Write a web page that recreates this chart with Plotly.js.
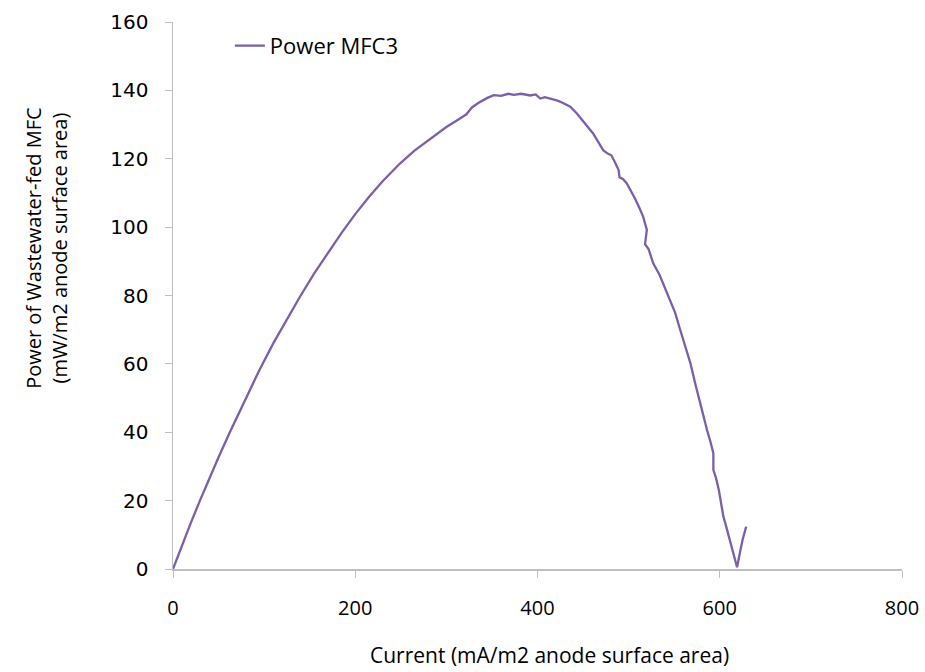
<!DOCTYPE html>
<html>
<head>
<meta charset="utf-8">
<script src="https://cdn.plot.ly/plotly-3.0.1.min.js"></script>
<style>html,body{margin:0;padding:0;background:#fff;}#chart{width:925px;height:672px;}</style>
</head>
<body>
<div id="chart"></div>
<script>
var seriesName = "Power MFC3";
var xTitle = "Current (mA/m2 anode surface area)";
var yTitle = "Power of Wastewater-fed MFC<br>(mW/m2 anode surface area)";
var current = [0, 10, 20, 30, 40, 50, 62, 75, 95, 110, 125, 139, 155, 170, 185, 200, 215, 230, 249, 265, 285, 300, 315, 322, 328, 335, 345, 352, 360, 368, 374, 382, 392, 398, 403, 408, 415, 422, 428, 436, 443, 452, 461, 466, 472, 477, 481, 485, 489, 490, 494, 498, 503, 507, 512, 516, 520, 518, 522, 527, 534, 541, 546, 551, 556, 560, 564, 568, 573, 576, 579, 583, 586, 590, 593, 593, 596, 599, 601, 604, 606, 609, 612, 615, 619, 622, 625, 629];
var power = [0, 7, 13.8, 20.3, 26.6, 32.7, 39.8, 47, 58.3, 66, 73.2, 79.5, 86.5, 92.5, 98.3, 103.8, 108.8, 113.4, 118.6, 122.4, 126.5, 129.3, 131.8, 133, 135, 136.3, 137.8, 138.6, 138.4, 139, 138.7, 139, 138.5, 138.8, 137.6, 138, 137.5, 137, 136.3, 135.2, 133.3, 130.5, 127.4, 125.2, 122.5, 121.5, 121, 119, 116.7, 114.6, 114, 112.8, 110.5, 108.4, 105.5, 103, 99.2, 95, 93.5, 89.4, 86, 81.6, 78.5, 75, 70.5, 67, 63.1, 60, 54.3, 51, 47.5, 43.5, 40.7, 37, 33.8, 29, 26.5, 23.1, 20, 15.3, 13.5, 10.5, 7.8, 4.5, 0.5, 4.6, 8.5, 12.4];
var xTicks = [0, 200, 400, 600, 800];
var yTicks = [0, 20, 40, 60, 80, 100, 120, 140, 160];

var font = "Open Sans, sans-serif";
var trace = {
  x: current, y: power, type: "scatter", mode: "lines", name: seriesName,
  line: {color: "#7b5fa8", width: 2.3}
};
var layout = {
  width: 925, height: 672,
  margin: {l: 173, r: 23, t: 22, b: 103},
  paper_bgcolor: "#fff", plot_bgcolor: "#fff",
  showlegend: true,
  legend: {x: 0.078, y: 0.995, xanchor: "left", yanchor: "top", bgcolor: "rgba(0,0,0,0)",
    itemwidth: 30, font: {family: font, size: 22, color: "#000"}},
  xaxis: {
    range: [0, 800], tickvals: xTicks, ticktext: xTicks.map(String),
    showgrid: false, zeroline: false, showline: true, linecolor: "#bfbfbf", linewidth: 1.5,
    ticks: "outside", ticklen: 7, tickcolor: "#bfbfbf", ticklabelstandoff: 13,
    tickfont: {family: font, size: 20, color: "#000"}
  },
  yaxis: {
    range: [0, 160], tickvals: yTicks, ticktext: yTicks.map(String),
    showgrid: false, zeroline: false, showline: true, linecolor: "#bfbfbf", linewidth: 1.5,
    ticks: "outside", ticklen: 7, tickcolor: "#bfbfbf", ticklabelstandoff: 12,
    tickfont: {family: "DejaVu Sans, sans-serif", size: 20, color: "#000"}
  },
  annotations: [
    {text: xTitle, xref: "paper", yref: "paper", x: 0.516, y: -0.157, xanchor: "center", yanchor: "middle",
     showarrow: false, font: {family: font, size: 21, color: "#000"}},
    {text: yTitle, xref: "paper", yref: "paper", x: -0.173, y: 0.587, xanchor: "center", yanchor: "middle",
     textangle: -90, showarrow: false, font: {family: font, size: 20, color: "#000"}}
  ]
};
Plotly.newPlot("chart", [trace], layout, {displayModeBar: false, staticPlot: true});
</script>
</body>
</html>
